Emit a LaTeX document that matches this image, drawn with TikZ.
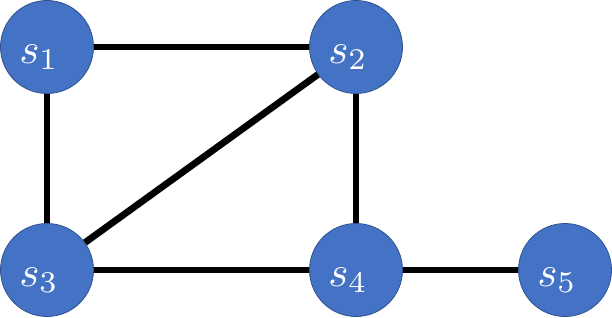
\documentclass[tikz,border=0pt]{standalone}
\usepackage{graphicx}
\usepackage{xcolor}
\definecolor{nodeblue}{HTML}{4472C4}
\definecolor{nodeedge}{HTML}{2F528F}
\newcommand{\biglbl}[1]{\scalebox{4.3}{$s_{#1}$}}
\tikzset{
  vert/.style={circle, fill=nodeblue, draw=nodeedge, line width=0.8pt, minimum size=93pt, inner sep=0pt},
  lbl/.style={text=white, inner sep=0pt},
  edge/.style={line width=6.8pt, black}
}
\begin{document}
\begin{tikzpicture}[x=1pt,y=-1pt]
\useasboundingbox (0,0) rectangle (612,318);
\node[vert] (s1) at (47,47) {};
\node[vert] (s2) at (356,47) {};
\node[vert] (s3) at (47,270) {};
\node[vert] (s4) at (356,270) {};
\node[vert] (s5) at (565,270) {};
\draw[edge] (s1) -- (s2);
\draw[edge] (s1) -- (s3);
\draw[edge] (s2) -- (s4);
\draw[edge] (s2) -- (s3);
\draw[edge] (s3) -- (s4);
\draw[edge] (s4) -- (s5);
\node[lbl] (l1) at ([xshift=-8pt,yshift=-10pt]s1.center) {\biglbl{1}};
\node[lbl] (l2) at ([xshift=-8pt,yshift=-10pt]s2.center) {\biglbl{2}};
\node[lbl] (l3) at ([xshift=-8pt,yshift=-10pt]s3.center) {\biglbl{3}};
\node[lbl] (l4) at ([xshift=-8pt,yshift=-10pt]s4.center) {\biglbl{4}};
\node[lbl] (l5) at ([xshift=-8pt,yshift=-10pt]s5.center) {\biglbl{5}};
\end{tikzpicture}
\end{document}
